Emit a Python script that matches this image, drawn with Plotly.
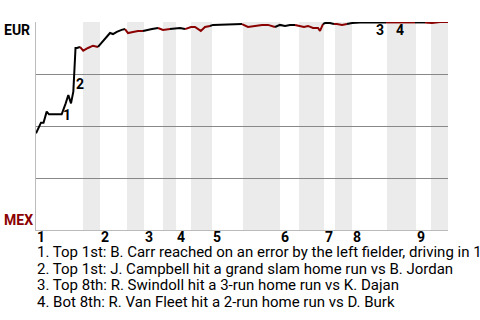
import plotly.graph_objects as go

# ---- data ----
# game progress boundaries of each half inning (top 1st, bot 1st, ..., bot 9th)
half_edges = [0, 11.75, 16, 22.75, 27, 31.75, 35, 38.75, 44, 51.75, 61, 65.75,
              72, 74.75, 79, 87.75, 95, 98.75, 103]
innings = ["1", "2", "3", "4", "5", "6", "7", "8", "9"]

# win probability for EUR (%) along game progress
prog = [0, 0.83, 1.25, 1.88, 2.67, 3.25, 6.42, 7.42, 8.08, 8.75, 9.33, 9.88, 10.25, 11,
        11.8, 13, 14.25, 15.5,
        16.4, 17.7, 18.5, 19.25, 20.2, 21.4, 22.25,
        23, 24.25, 25.5, 26.75,
        27.75, 29, 30.5,
        31.75, 33.5,
        35, 36, 37.25,
        38.75, 39.75, 41.2, 42.25, 43.5,
        44.25, 51.5,
        53, 54.75, 56.5, 58, 59.75,
        61, 62.25, 63.5, 64.75,
        66, 67, 68, 69.25, 70.5, 71, 71.75,
        72.25, 73.5, 74.5,
        75.25, 76.5, 77.75,
        79, 81, 87.5,
        91, 94.75,
        97.25,
        99, 101, 103]
wp_eur = [46.5, 50.5, 51.6, 51.6, 56.9, 55.6, 55.6, 60.9, 64.9, 60.9, 66.5, 87.5, 87.5, 88.0,
          86.2, 87.5, 88.6, 88.0,
          89.9, 92.9, 94.7, 94.2, 95.3, 96.2, 96.6,
          94.7, 95.2, 95.7, 95.7,
          96.2, 96.6, 97.1,
          96.2, 96.6,
          97.1, 97.1, 96.6,
          97.6, 97.6, 95.7, 97.6, 98.1,
          98.6, 99.0,
          97.6, 98.1, 98.6, 98.6, 97.6,
          98.6, 98.1, 98.6, 98.6,
          98.1, 97.6, 98.1, 97.1, 97.1, 95.7, 99.0,
          99.5, 99.5, 99.0,
          99.0, 98.6, 99.0,
          99.5, 99.8, 99.8,
          99.8, 99.8,
          99.8,
          99.5, 100, 100]

event_labels = ["1", "2", "3", "4"]
event_prog = [7.75, 10.9, 86, 91]
event_wp = [55.3, 70.2, 96.2, 96.2]
captions = [
    "1. Top 1st: B. Carr reached on an error by the left fielder, driving in 1",
    "2. Top 1st: J. Campbell hit a grand slam home run vs B. Jordan",
    "3. Top 8th: R. Swindoll hit a 3-run home run vs K. Dajan",
    "4. Bot 8th: R. Van Fleet hit a 2-run home run vs D. Burk",
]
team_top = "EUR"
team_bottom = "MEX"

# ---- styles ----
BLACK = "#000000"
RED = "#8B0000"
BAND = "#ebebeb"
FONT = "Roboto"

fig = go.Figure()

# split points into half innings
def half_index(x):
    for i in range(len(half_edges) - 1):
        if half_edges[i] <= x < half_edges[i + 1]:
            return i
    return len(half_edges) - 2

groups = {}
for x, y in zip(prog, wp_eur):
    groups.setdefault(half_index(x), []).append((x, y))

prev_last = None
for i in sorted(groups):
    pts = groups[i]
    if prev_last is not None:
        pts = [prev_last] + pts
    fig.add_trace(go.Scatter(
        x=[p[0] for p in pts], y=[p[1] for p in pts], mode="lines",
        line=dict(color=BLACK if i % 2 == 0 else RED, width=2),
        hoverinfo="skip", showlegend=False, cliponaxis=False))
    prev_last = pts[-1]

shapes = []
for i in range(1, len(half_edges) - 1, 2):
    shapes.append(dict(type="rect", xref="x", yref="paper",
                       x0=half_edges[i], x1=half_edges[i + 1], y0=0, y1=1,
                       fillcolor=BAND, line=dict(width=0), layer="below"))

annotations = []
for lab, x, y in zip(event_labels, event_prog, event_wp):
    annotations.append(dict(x=x, y=y, xref="x", yref="y", text=lab,
                            showarrow=False, xanchor="center", yanchor="middle",
                            font=dict(family=FONT, size=14, color="#000000", weight="bold")))
for k, lab in enumerate(innings):
    annotations.append(dict(x=half_edges[2 * k], y=0, xref="x", yref="paper",
                            text=lab, showarrow=False, xanchor="left", yanchor="top",
                            yshift=3, xshift=-1,
                            font=dict(family=FONT, size=14, color="#000000", weight="bold")))
for k, line in enumerate(captions):
    annotations.append(dict(x=0, y=0, xref="paper", yref="paper", text=line,
                            showarrow=False, xanchor="left", yanchor="middle",
                            yshift=-22 - 16.7 * k, xshift=-1,
                            font=dict(family=FONT, size=15, color="#000000")))
annotations.append(dict(x=-34 / 412, y=1, xref="paper", yref="paper", text=team_top,
                        showarrow=False, xanchor="left", yanchor="top", yshift=2,
                        font=dict(family=FONT, size=14, color="#000000", weight="bold")))
annotations.append(dict(x=-34 / 412, y=0, xref="paper", yref="paper", text=team_bottom,
                        showarrow=False, xanchor="left", yanchor="bottom", yshift=0,
                        font=dict(family=FONT, size=14, color=RED, weight="bold")))

fig.update_layout(
    width=480, height=320,
    margin=dict(l=36, r=32, t=22, b=90),
    paper_bgcolor="white", plot_bgcolor="white",
    shapes=shapes, annotations=annotations,
    xaxis=dict(range=[half_edges[0], half_edges[-1]], showgrid=False, zeroline=False,
               showline=True, linecolor="#bbbbbb", linewidth=1,
               showticklabels=False, ticks="", fixedrange=True),
    yaxis=dict(range=[0, 100], tickvals=[25, 50, 75, 100], showgrid=True,
               gridcolor="#888888", gridwidth=1, zeroline=False,
               showline=True, linecolor="#bbbbbb", linewidth=1,
               showticklabels=False, ticks="", fixedrange=True),
    font=dict(family=FONT, size=14),
)

fig.write_html("out.html", config={"displayModeBar": False})
